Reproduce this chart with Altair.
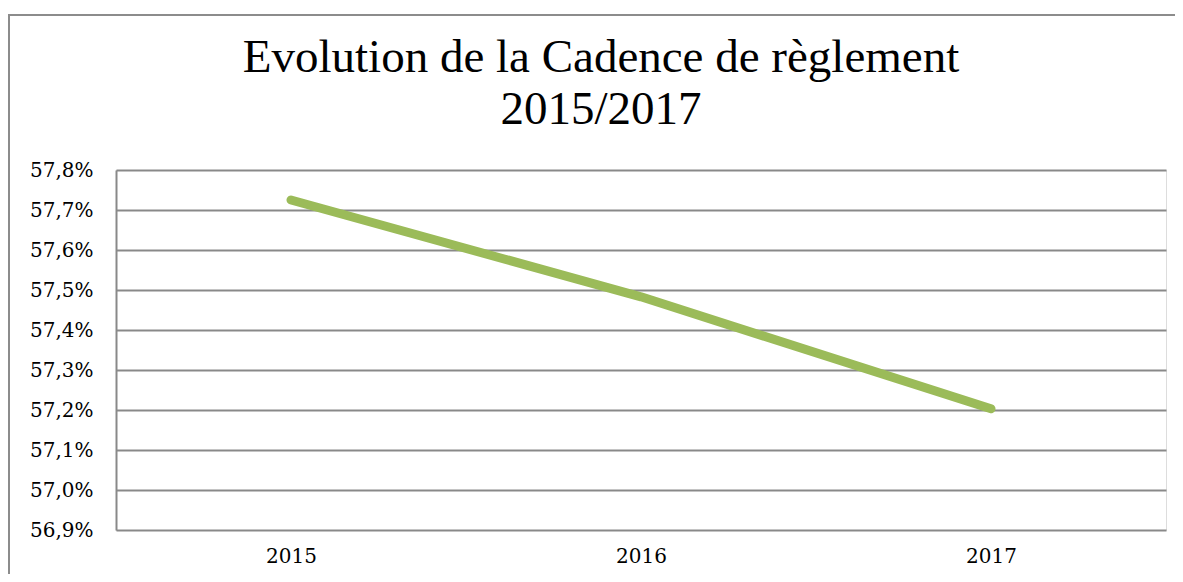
import altair as alt
import pandas as pd

years = ["2015", "2016", "2017"]
rates = [0.57725, 0.57483, 0.57203]
y_ticks = [0.569, 0.570, 0.571, 0.572, 0.573, 0.574, 0.575, 0.576, 0.577, 0.578]
title_lines = ["Evolution de la Cadence de règlement", "2015/2017"]

df = pd.DataFrame({"year": years, "rate": rates})

W, H = 1050, 360

line = alt.Chart(df).mark_line(
    color="#9BBB59", strokeWidth=9, strokeCap="round", strokeJoin="round"
).encode(
    x=alt.X("year:N", sort=years, title=None,
            scale=alt.Scale(paddingInner=0, paddingOuter=0.5),
            axis=alt.Axis(labelAngle=0, ticks=False, domain=False, grid=False,
                          labelFont="DejaVu Serif", labelFontSize=20,
                          labelColor="#000000", labelPadding=16)),
    y=alt.Y("rate:Q", title=None,
            scale=alt.Scale(domain=[0.569, 0.578], nice=False, zero=False),
            axis=alt.Axis(values=y_ticks, ticks=False,
                          labelExpr="replace(format(datum.value, '.1%'), '.', ',')",
                          labelFont="DejaVu Serif", labelFontSize=20,
                          labelColor="#000000", labelPadding=23,
                          domain=True, domainColor="#898989", domainWidth=2,
                          grid=True, gridColor="#898989", gridWidth=2)),
)

border = alt.Chart(pd.DataFrame({"k": [0]})).mark_rect(
    fill=None, stroke="#8c8c8c", strokeWidth=2
).encode(
    x=alt.value(-107), x2=alt.value(W + 60),
    y=alt.value(-155), y2=alt.value(H + 100),
)

title = alt.Chart(pd.DataFrame({"k": [0]})).mark_text(
    text=title_lines, font="Liberation Serif", fontSize=47, color="#000000",
    align="center", baseline="alphabetic", lineHeight=52,
).encode(
    x=alt.value(W / 2 - 40), y=alt.value(-98),
)

chart = alt.layer(border, title, line).properties(
    width=W, height=H,
    autosize=alt.AutoSizeParams(type="none"),
    padding={"left": 108, "top": 162, "right": 9, "bottom": 44},
).configure_view(stroke="transparent", strokeWidth=0).configure(background="white")

chart.save("out.html", embed_options={"renderer": "svg", "actions": False})
